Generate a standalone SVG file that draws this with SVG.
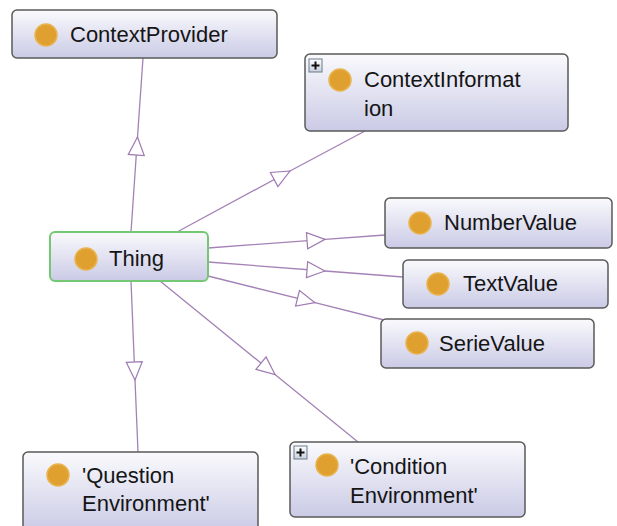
<svg xmlns="http://www.w3.org/2000/svg" width="617" height="526" viewBox="0 0 617 526">
<defs>
<linearGradient id="boxg" x1="0" y1="0" x2="0" y2="1">
<stop offset="0" stop-color="#FAFAFD"/>
<stop offset="1" stop-color="#CACAE6"/>
</linearGradient>
<linearGradient id="plusg" x1="0" y1="0" x2="0" y2="1">
<stop offset="0" stop-color="#FFFFFF"/>
<stop offset="1" stop-color="#C8D0DC"/>
</linearGradient>
<marker id="tri" markerUnits="userSpaceOnUse" viewBox="-20 -9 21 18" markerWidth="21" markerHeight="18" refX="0" refY="0" orient="auto" overflow="visible">
<path d="M0,0 L-18,-8 L-18,8 Z" fill="#FFFFFF" stroke="#9E7AB2" stroke-width="1.2" stroke-linejoin="miter"/>
</marker>
<style>
.box{fill:url(#boxg);stroke:#5A5A5A;stroke-width:1.5}
.thing{fill:url(#boxg);stroke:#74C874;stroke-width:2}
.dot{fill:#DFA030;stroke:#E8B450;stroke-width:1.5}
.lbl{font-family:"Liberation Sans",Arial,sans-serif;font-size:22px;fill:#151515}
.edge{fill:none;stroke:#A482B6;stroke-width:1.3;marker-mid:url(#tri)}
.pbox{fill:url(#plusg);stroke:#6A7A8C;stroke-width:1}
.pl{stroke:#111;stroke-width:2}
</style>
</defs>
<rect width="617" height="526" fill="#FFFFFF"/>
<g id="connectors">
<polyline class="edge" points="131,232 137.5,137 143,58"/>
<polyline class="edge" points="177,232 290,171 365,131"/>
<polyline class="edge" points="208,248 325,239.4 385,235"/>
<polyline class="edge" points="208,262 325,271 403,277"/>
<polyline class="edge" points="208,276 315,302.7 384,320"/>
<polyline class="edge" points="131,281 135,380 138,452"/>
<polyline class="edge" points="160,281 275,374.5 358,442"/>
</g>
<g id="ContextProvider">
<rect class="box" x="12" y="10" width="265" height="48" rx="5"/>
<circle class="dot" cx="46" cy="35" r="11"/>
<text class="lbl" x="70" y="42">ContextProvider</text>
</g>
<g id="ContextInformation">
<rect class="box" x="305" y="54" width="263" height="77" rx="5"/>
<rect class="pbox" x="309" y="59" width="13" height="13"/>
<line class="pl" x1="311.5" y1="65.5" x2="319.5" y2="65.5"/>
<line class="pl" x1="315.5" y1="61.5" x2="315.5" y2="69.5"/>
<circle class="dot" cx="340" cy="80" r="11"/>
<text class="lbl" x="364" y="87">ContextInformat</text>
<text class="lbl" x="364" y="116">ion</text>
</g>
<g id="Thing">
<rect class="thing" x="50" y="232" width="158" height="49" rx="5"/>
<circle class="dot" cx="86" cy="259" r="11"/>
<text class="lbl" x="109" y="266">Thing</text>
</g>
<g id="NumberValue">
<rect class="box" x="385" y="198" width="227" height="50" rx="5"/>
<circle class="dot" cx="420" cy="223" r="11"/>
<text class="lbl" x="444" y="230">NumberValue</text>
</g>
<g id="TextValue">
<rect class="box" x="403" y="260" width="205" height="48" rx="5"/>
<circle class="dot" cx="438" cy="284" r="11"/>
<text class="lbl" x="463" y="291">TextValue</text>
</g>
<g id="SerieValue">
<rect class="box" x="381" y="319" width="213" height="49" rx="5"/>
<circle class="dot" cx="417" cy="343" r="11"/>
<text class="lbl" x="439" y="351">SerieValue</text>
</g>
<g id="QuestionEnvironment">
<rect class="box" x="23" y="452" width="235" height="80" rx="5"/>
<circle class="dot" cx="58" cy="475" r="11"/>
<text class="lbl" x="82" y="483">'Question</text>
<text class="lbl" x="82" y="511">Environment'</text>
</g>
<g id="ConditionEnvironment">
<rect class="box" x="290" y="442" width="235" height="75" rx="5"/>
<rect class="pbox" x="294" y="446" width="13" height="13"/>
<line class="pl" x1="296.5" y1="452.5" x2="304.5" y2="452.5"/>
<line class="pl" x1="300.5" y1="448.5" x2="300.5" y2="456.5"/>
<circle class="dot" cx="327" cy="465" r="11"/>
<text class="lbl" x="350" y="474">'Condition</text>
<text class="lbl" x="350" y="503">Environment'</text>
</g>
</svg>
